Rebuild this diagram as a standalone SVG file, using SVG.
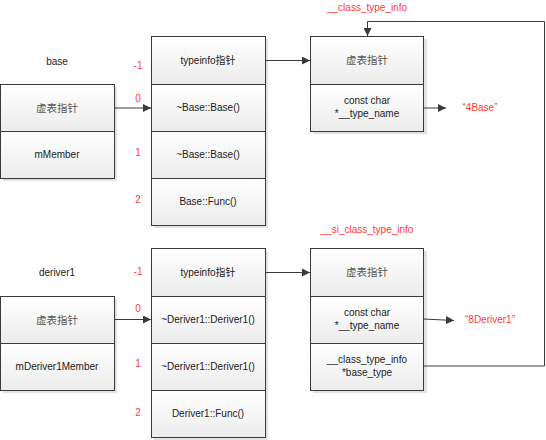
<svg xmlns="http://www.w3.org/2000/svg" width="546" height="440" viewBox="0 0 546 440">
<defs>
<linearGradient id="g" x1="0" y1="0" x2="0" y2="1">
<stop offset="0" stop-color="#ffffff"/>
<stop offset="1" stop-color="#ececec"/>
</linearGradient>
<marker id="ah" viewBox="0 0 10 10" refX="10" refY="5" markerWidth="8" markerHeight="8" markerUnits="userSpaceOnUse" orient="auto">
<path d="M0,0 L10,5 L0,10 z" fill="#3a3a3a"/>
</marker>
<style>
.sh{fill:#e2e2e2;stroke:none}
.c{fill:url(#g);stroke:#3a3a3a;stroke-width:1}
.t{font-family:"Liberation Sans","Noto Sans CJK SC",sans-serif;font-size:10px;fill:#222;text-anchor:middle}
.cj{fill:#555;font-size:10.5px}
.r{font-family:"Liberation Sans","Noto Sans CJK SC",sans-serif;font-size:10px;fill:#ff3b3b;text-anchor:middle}
.l{fill:none;stroke:#3a3a3a;stroke-width:1}
</style>
</defs>
<rect width="546" height="440" fill="#ffffff"/>

<!-- plain labels -->
<text class="t" x="57" y="65">base</text>
<text class="t" x="57" y="276">deriver1</text>
<g id="idx-base">
<text class="r" x="138" y="69">-1</text>
<text class="r" x="138" y="102">0</text>
<text class="r" x="138" y="156">1</text>
<text class="r" x="138" y="203">2</text>
</g>
<g id="idx-deriver">
<text class="r" x="138" y="275">-1</text>
<text class="r" x="138" y="312">0</text>
<text class="r" x="138" y="367">1</text>
<text class="r" x="138" y="416">2</text>
</g>
<text class="r" x="367" y="11">__class_type_info</text>
<text class="r" x="367" y="233">__si_class_type_info</text>
<text class="r" x="480" y="111">“4Base”</text>
<text class="r" x="490" y="323">“8Deriver1”</text>

<!-- base object -->
<g id="base-obj">
<rect class="sh" x="3" y="87" width="114" height="94"/>
<rect class="c" x="0.5" y="84.5" width="114" height="47"/>
<rect class="c" x="0.5" y="131.5" width="114" height="47"/>
<text class="t cj" x="57" y="112">虚表指针</text>
<text class="t" x="57" y="158">mMember</text>
</g>

<!-- base vtable -->
<g id="base-vtable">
<rect class="sh" x="154" y="39" width="114" height="189"/>
<rect class="c" x="151.5" y="36.5" width="114" height="48"/>
<rect class="c" x="151.5" y="84.5" width="114" height="47"/>
<rect class="c" x="151.5" y="131.5" width="114" height="47"/>
<rect class="c" x="151.5" y="178.5" width="114" height="47"/>
<text class="t" x="208" y="64">typeinfo指针</text>
<text class="t" x="208" y="111">~Base::Base()</text>
<text class="t" x="208" y="158">~Base::Base()</text>
<text class="t" x="208" y="205">Base::Func()</text>
</g>

<!-- class_type_info -->
<g id="class-type-info">
<rect class="sh" x="313" y="39" width="114" height="95"/>
<rect class="c" x="310.5" y="36.5" width="113" height="48"/>
<rect class="c" x="310.5" y="84.5" width="113" height="47"/>
<text class="t cj" x="367" y="64">虚表指针</text>
<text class="t" x="367" y="104">const char</text>
<text class="t" x="367" y="117">*__type_name</text>
</g>

<!-- deriver1 object -->
<g id="deriver-obj">
<rect class="sh" x="3" y="299" width="114" height="94"/>
<rect class="c" x="0.5" y="296.5" width="114" height="47"/>
<rect class="c" x="0.5" y="343.5" width="114" height="47"/>
<text class="t cj" x="57" y="324">虚表指针</text>
<text class="t" x="57" y="370">mDeriver1Member</text>
</g>

<!-- deriver1 vtable -->
<g id="deriver-vtable">
<rect class="sh" x="154" y="251" width="114" height="189"/>
<rect class="c" x="151.5" y="248.5" width="114" height="48"/>
<rect class="c" x="151.5" y="296.5" width="114" height="47"/>
<rect class="c" x="151.5" y="343.5" width="114" height="47"/>
<rect class="c" x="151.5" y="390.5" width="114" height="47"/>
<text class="t" x="208" y="276">typeinfo指针</text>
<text class="t" x="208" y="323">~Deriver1::Deriver1()</text>
<text class="t" x="208" y="370">~Deriver1::Deriver1()</text>
<text class="t" x="208" y="417">Deriver1::Func()</text>
</g>

<!-- si_class_type_info -->
<g id="si-class-type-info">
<rect class="sh" x="313" y="251" width="114" height="142"/>
<rect class="c" x="310.5" y="248.5" width="113" height="48"/>
<rect class="c" x="310.5" y="296.5" width="113" height="47"/>
<rect class="c" x="310.5" y="343.5" width="113" height="47"/>
<text class="t cj" x="367" y="276">虚表指针</text>
<text class="t" x="367" y="316">const char</text>
<text class="t" x="367" y="329">*__type_name</text>
<text class="t" x="367" y="363">__class_type_info</text>
<text class="t" x="367" y="376">*base_type</text>
</g>

<!-- connectors -->
<g id="connectors">
<line class="l" x1="114.5" y1="108" x2="151" y2="108" marker-end="url(#ah)"/>
<line class="l" x1="265.5" y1="60.5" x2="310" y2="60.5" marker-end="url(#ah)"/>
<line class="l" x1="423.5" y1="108" x2="446" y2="108" marker-end="url(#ah)"/>
<line class="l" x1="114.5" y1="319.5" x2="151" y2="319.5" marker-end="url(#ah)"/>
<line class="l" x1="265.5" y1="272.5" x2="310" y2="272.5" marker-end="url(#ah)"/>
<line class="l" x1="423.5" y1="319" x2="454" y2="320.5" marker-end="url(#ah)"/>
<polyline class="l" points="423.5,366 544.5,366 544.5,21.5 367.5,21.5 367.5,36" marker-end="url(#ah)"/>
</g>
</svg>
